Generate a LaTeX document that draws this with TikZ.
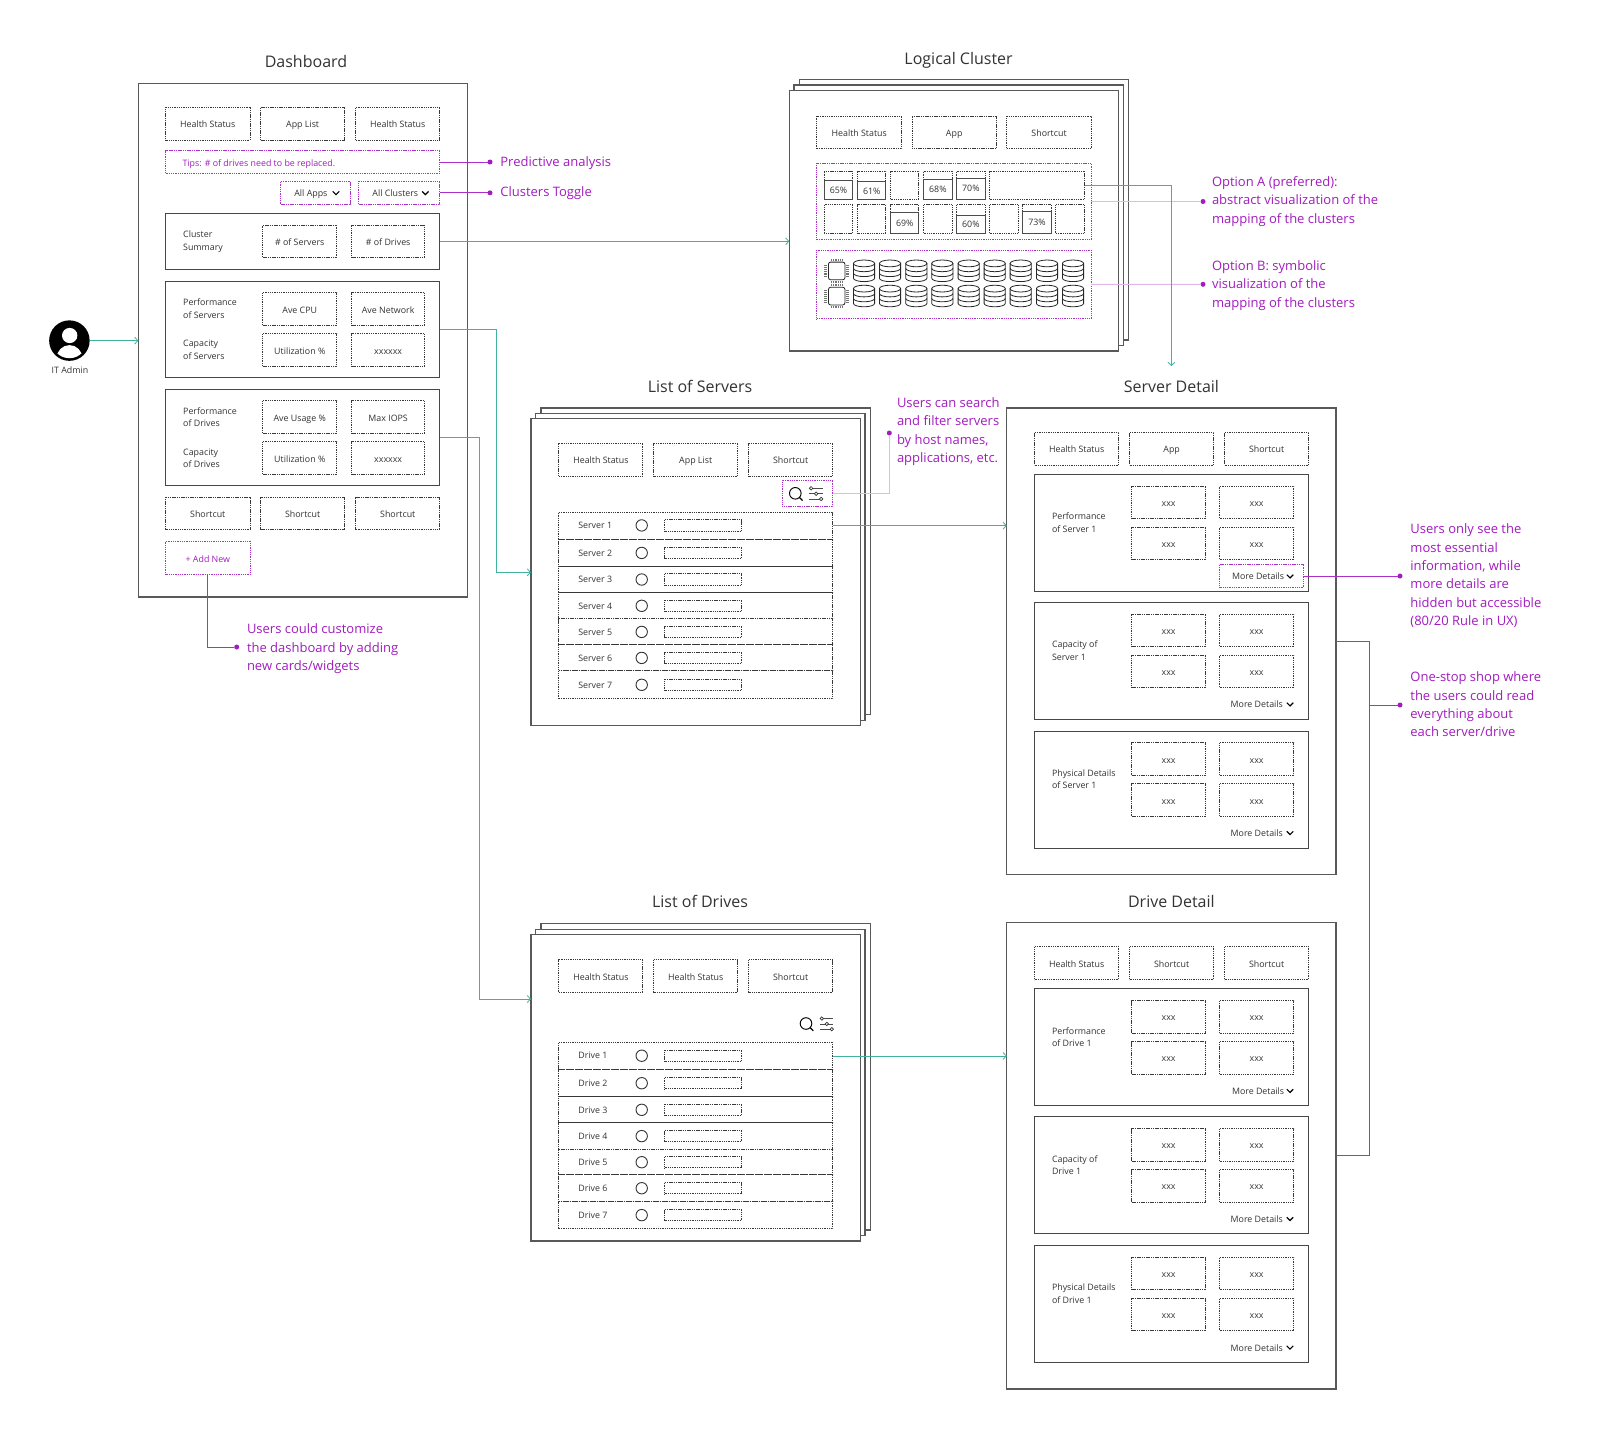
\documentclass[tikz,border=0pt]{standalone}
\usepackage{fontspec}
\setmainfont{Open Sans}
\usetikzlibrary{arrows.meta}
\definecolor{mg}{HTML}{A21CBF}
\definecolor{mgl}{HTML}{E3B8EE}
\definecolor{mgb}{HTML}{AD2FCB}
\definecolor{tl}{HTML}{3FB39D}
\definecolor{ink}{HTML}{333333}
\tikzset{
 dbox/.style={draw=black!78,line width=0.85pt,dash pattern=on 1.1pt off 0.7pt,inner sep=0pt,outer sep=0pt,text=ink,font=\fontsize{8.85}{12}\selectfont,text height=8pt,text depth=0pt,xshift=0.2pt},
 mbox/.style={draw=mgb,line width=0.85pt,dash pattern=on 1.1pt off 0.7pt,inner sep=0pt,outer sep=0pt,text=mg,font=\fontsize{8.85}{12}\selectfont,text height=8.6pt,text depth=0pt,xshift=0.2pt},
 sbox/.style={draw=black!72,line width=1pt,fill=white,inner sep=0pt,outer sep=0pt},
 frm/.style={draw=black!65,line width=1.05pt,fill=white,inner sep=0pt,outer sep=0pt},
 pctbox/.style={draw=black!70,line width=1pt,inner sep=0pt,outer sep=0pt,xshift=0.2pt},
 lbl/.style={inner sep=0pt,outer sep=0pt,text=ink,font=\fontsize{8.85}{12.7}\selectfont,align=left},
 slbl/.style={inner sep=0pt,outer sep=0pt,text=ink,font=\fontsize{8.85}{12.7}\selectfont,text height=6.4pt,text depth=0pt},
 ttl/.style={inner sep=0pt,outer sep=0pt,text=ink,font=\fontsize{16}{20}\selectfont},
 note/.style={inner sep=0pt,outer sep=0pt,text=mg,font=\fontsize{13}{18.4}\selectfont,align=left,anchor=west},
 mdot/.style={circle,fill=mg,draw=none,minimum size=5pt,inner sep=0pt,outer sep=0pt},
 tarrow/.style={draw=tl,line width=0.9pt,-{Straight Barb[length=3.2pt,width=7pt,line width=0.8pt]}},
 mline/.style={draw=mgb,line width=0.95pt},
 mlight/.style={draw=mgl,line width=0.9pt},
 chv/.style={draw=black,line width=1.2pt},
}
% style, name, x1, y1, x2, y2, text
\newcommand\bx[7]{%
 \pgfmathsetmacro\bxW{(#5)-(#3)}\pgfmathsetmacro\bxH{(#6)-(#4)}%
 \node[#1,minimum width=\bxW pt,minimum height=\bxH pt,anchor=north west] (#2) at ({#3},{#4}) {#7};}
\newcommand\chev[2]{\draw[chv] ({#1-3.2},{#2-1.6}) -- ({#1},{#2+1.6}) -- ({#1+3.2},{#2-1.6});}
% name, more x, y(card top), line1, line2
\newcommand\card[5]{%
 \bx{sbox}{#1}{1034.3}{#3}{1308.6}{(#3)+117}{}
 \bx{dbox}{#1a}{1131.4}{(#3)+11.7}{1205.4}{(#3)+44.4}{xxx}
 \bx{dbox}{#1b}{1219.3}{(#3)+11.7}{1293.6}{(#3)+44.4}{xxx}
 \bx{dbox}{#1c}{1131.4}{(#3)+52.7}{1205.4}{(#3)+85.4}{xxx}
 \bx{dbox}{#1d}{1219.3}{(#3)+52.7}{1293.6}{(#3)+85.4}{xxx}
 \node[lbl,anchor=west] (#1t) at (1052,{(#3)+48.3}) {#4\\#5};
 \node[slbl,anchor=west] (#1m) at (#2,{(#3)+102.4}) {More Details};
 \chev{1290}{(#3)+102}}
% name, dy, top2, top3, word
\newcommand\detailpage[5]{%
 \bx{frm}{#1}{1006.8}{(#2)+408}{1336}{(#2)+874.5}{}
 \bx{dbox}{#1h}{1034.3}{(#2)+432.3}{1118.6}{(#2)+465}{Health Status}
 \bx{dbox}{#1i}{1129.3}{(#2)+432.3}{1213.6}{(#2)+465}{#3}
 \bx{dbox}{#1j}{1224.3}{(#2)+432.3}{1308.6}{(#2)+465}{#4}
 \card{#1p}{1232}{(#2)+474.3}{Performance}{of #5 1}
 \card{#1q}{1230.7}{(#2)+602.3}{Capacity of}{#5 1}
 \card{#1s}{1230.7}{(#2)+731}{Physical Details}{of #5 1}}
% triple stack: name, x1, y1, x2, y2 (front)
\newcommand\stackfr[5]{%
 \bx{frm}{#1bk}{(#2)+10}{(#3)-10.7}{(#4)+10}{(#5)-11}{}
 \bx{frm}{#1md}{(#2)+4.7}{(#3)-5.3}{(#4)+4.7}{(#5)-5.4}{}
 \bx{frm}{#1}{#2}{#3}{#4}{#5}{}}
% name, dy rows, word
\newcommand\rows[3]{%
 \foreach \i/\ya/\yb/\yt in {1/512/539.3/525.4,2/539.3/566/552.9,3/566/592.3/579.5,4/592.3/618.7/605.8,5/618.7/644/631.9,6/644/670.7/657.9,7/670.7/698.3/684.8}{
  \bx{dbox}{#1r\i}{558.7}{(#2)+\ya}{832.7}{(#2)+\yb}{}
  \node[slbl,anchor=west] (#1l\i) at (578.3,{(#2)+\yt}) {#3 \i};
  \node[draw=black!80,line width=0.9pt,circle,minimum size=11.4pt,inner sep=0pt] (#1c\i) at (641.7,{(#2)+\yt}) {};
  \bx{dbox}{#1b\i}{664.3}{(#2)+\yt-5.7}{741.3}{(#2)+\yt+5.7}{}
 }}
\newcommand\searchicon[2]{%
 \draw[black,line width=0.95pt] (#1,#2) circle (5.8);
 \draw[black,line width=1.2pt] ({#1+4.2},{#2+4.2}) -- ({#1+7.3},{#2+7.3});
 \foreach \yy/\xx in {-5/1.8,0.4/6.8,5.7/11.8}{
  \draw[black!70,line width=0.7pt] ({#1+14},{#2+\yy}) -- ({#1+27.4},{#2+\yy});
  \node[draw=black!80,fill=white,line width=0.7pt,circle,minimum size=3.4pt,inner sep=0pt] (knob\xx) at ({#1+14+\xx},{#2+\yy}) {};}}
\newcommand\disks[2]{%
 \draw[black!85,line width=0.8pt,fill=white] ({#1-10.6},{#2+3.4}) -- ({#1-10.6},{#2+18.2}) arc[start angle=180,end angle=0,x radius=10.6,y radius=3.4] -- ({#1+10.6},{#2+3.4});
 \draw[black!85,line width=0.8pt,fill=white] ({#1},{#2+3.4}) ellipse (10.6 and 3.4);
 \draw[black!85,line width=0.8pt] ({#1-10.6},{#2+8.3}) arc[start angle=180,end angle=0,x radius=10.6,y radius=3.4];
 \draw[black!85,line width=0.8pt] ({#1-10.6},{#2+13.2}) arc[start angle=180,end angle=0,x radius=10.6,y radius=3.4];}
\newcommand\chip[2]{%
 \draw[black!85,line width=0.8pt,rounded corners=2pt] ({#1-8.2},{#2-8.8}) rectangle ({#1+8.2},{#2+8.8});
 \foreach \k in {-5.6,-3.7,-1.8,0.1,2,3.9,5.8}{
  \draw[black!55,line width=0.8pt] ({#1+\k},{#2-12.2}) -- ({#1+\k},{#2-9.9});
  \draw[black!55,line width=0.8pt] ({#1+\k},{#2+9.9}) -- ({#1+\k},{#2+12.2});
  \draw[black!55,line width=0.8pt] ({#1-12.6},{#2+\k}) -- ({#1-9.4},{#2+\k});
  \draw[black!55,line width=0.8pt] ({#1+9.4},{#2+\k}) -- ({#1+12.6},{#2+\k});}}
% pct x1 y1 x2 y2 liney ytext
\newcommand\pct[7]{%
 \bx{dbox}{c#1}{#2}{#3}{#4}{#5}{}
 \bx{pctbox}{c#1f}{#2}{#6}{#4}{#5}{}
 \node[slbl,anchor=center] (c#1t) at ({((#2)+(#4))/2+0.2},{#7}) {#1\%};}
\begin{document}
\begin{tikzpicture}[x=1pt,y=-1pt]
\useasboundingbox[fill=white] (0,0) rectangle (1600,1433);
% titles
\node[ttl] (tDash) at (306,61.2) {Dashboard};
\node[ttl] (tLog) at (958.6,60.2) {Logical Cluster};
\node[ttl] (tLS) at (700,386.2) {List of Servers};
\node[ttl] (tSD) at (1171.4,386.2) {Server Detail};
\node[ttl] (tLD) at (700,901) {List of Drives};
\node[ttl] (tDD) at (1171.4,901) {Drive Detail};
% avatar
\node[circle,fill=black,minimum size=40.5pt,inner sep=0pt,outer sep=0pt] (admin) at (69.4,340.6) {};
\begin{scope}
 \clip (69.4,340.6) circle (17.6);
 \fill[white] (69.5,358.6) ellipse (13 and 13.5);
\end{scope}
\fill[white] (69.7,335.5) ellipse (7.7 and 7.6);
\node[lbl,anchor=center] (adminT) at (69.9,370) {IT Admin};
% dashboard
\bx{frm}{dash}{138.4}{83.3}{467.3}{597}{}
\bx{dbox}{d1}{165.3}{107.3}{249.8}{140}{Health Status}
\bx{dbox}{d2}{260.4}{107.3}{344.5}{140}{App List}
\bx{dbox}{d3}{355.5}{107.3}{439.6}{140}{Health Status}
\bx{mbox}{tips}{165.3}{150.7}{439.6}{173.3}{}
\node[slbl,anchor=west,text=mg] (tipsT) at (182.6,163.4) {Tips: \# of drives need to be replaced.};
\bx{mbox}{allA}{280.4}{181.3}{350.6}{204.3}{}
\node[slbl,anchor=center] (allAT) at (310.9,193) {All Apps};
\chev{336}{193}
\bx{mbox}{allC}{358.4}{181.3}{439.6}{204.3}{}
\node[slbl,anchor=center] (allCT) at (395.3,193) {All Clusters};
\chev{425.3}{193}
\bx{sbox}{clu}{165.3}{213.3}{439.6}{269.3}{}
\node[lbl,anchor=west] (cluT) at (183.2,241.8) {Cluster\\Summary};
\bx{dbox}{clu1}{262.4}{225}{336.7}{257.7}{\# of Servers}
\bx{dbox}{clu2}{351.4}{225}{424.5}{257.7}{\# of Drives}
\bx{sbox}{pS}{165.3}{281.3}{439.6}{377.3}{}
\node[lbl,anchor=west] (pST) at (183.2,308.8) {Performance\\of Servers};
\node[lbl,anchor=west] (cST) at (183.2,350.1) {Capacity\\of Servers};
\bx{dbox}{pS1}{262.4}{292.7}{336.7}{325.3}{Ave CPU}
\bx{dbox}{pS2}{351.4}{292.7}{424.5}{325.3}{Ave Network}
\bx{dbox}{pS3}{262.4}{333.7}{336.7}{366.3}{Utilization \%}
\bx{dbox}{pS4}{351.4}{333.7}{424.5}{366.3}{xxxxxx}
\bx{sbox}{pD}{165.3}{389}{439.6}{485.3}{}
\node[lbl,anchor=west] (pDT) at (183.2,417) {Performance\\of Drives};
\node[lbl,anchor=west] (cDT) at (183.2,458.3) {Capacity\\of Drives};
\bx{dbox}{pD1}{262.4}{400.7}{336.7}{433.3}{Ave Usage \%}
\bx{dbox}{pD2}{351.4}{400.7}{424.5}{433.3}{Max IOPS}
\bx{dbox}{pD3}{262.4}{441.7}{336.7}{474.3}{Utilization \%}
\bx{dbox}{pD4}{351.4}{441.7}{424.5}{474.3}{xxxxxx}
\bx{dbox}{s1}{165.3}{497}{249.8}{529.6}{Shortcut}
\bx{dbox}{s2}{260.4}{497}{344.5}{529.6}{Shortcut}
\bx{dbox}{s3}{355.5}{497}{439.6}{529.6}{Shortcut}
\bx{mbox}{addN}{165.3}{541}{250}{574.5}{+ Add New}
% logical cluster
\stackfr{lc}{789.3}{90.3}{1118.7}{351}
\bx{dbox}{lc1}{816.7}{116}{901.3}{148.7}{Health Status}
\bx{dbox}{lc2}{912}{116}{996}{148.7}{App}
\bx{dbox}{lc3}{1006.7}{116}{1091}{148.7}{Shortcut}
\bx{mbox}{optA}{816.7}{163.3}{1091}{239.7}{}
\bx{mbox}{optB}{816.7}{250}{1091}{318.7}{}
\pct{65}{824}{171}{852.7}{199.3}{180}{190}
\pct{61}{857.3}{171}{885.7}{199.3}{181.7}{191}
\bx{dbox}{e1}{890.3}{171}{918.7}{199.3}{}
\pct{68}{923.3}{171}{952}{199.3}{179}{189}
\pct{70}{956.3}{171}{985}{199.3}{178}{188.7}
\bx{dbox}{wide}{989.3}{171}{1084.3}{199.3}{}
\bx{dbox}{e2}{824}{204.7}{852.7}{233.3}{}
\bx{dbox}{e3}{857.3}{204.7}{885.7}{233.3}{}
\pct{69}{890.3}{204.7}{918.7}{233.3}{212.3}{223}
\bx{dbox}{e4}{923.3}{204.7}{952}{233.3}{}
\pct{60}{956.3}{204.7}{985}{233.3}{215.3}{224.3}
\bx{dbox}{e5}{989.3}{204.7}{1018}{233.3}{}
\pct{73}{1022.7}{204.7}{1051}{233.3}{211.3}{222.3}
\bx{dbox}{e6}{1055.7}{204.7}{1084.3}{233.3}{}
\chip{836.7}{270.9}
\chip{836.7}{296.1}
\foreach \xx in {864,890,916.3,942.3,968.7,994.7,1020.7,1047,1073}{
 \disks{\xx}{260}
 \disks{\xx}{285.2}
}
% list of servers
\stackfr{ls}{531}{418.7}{860.3}{725.7}
\bx{dbox}{ls1}{558.7}{443.3}{642.7}{476}{Health Status}
\bx{dbox}{ls2}{653.3}{443.3}{737.7}{476}{App List}
\bx{dbox}{ls3}{748.3}{443.3}{832.7}{476}{Shortcut}
\bx{mbox}{srch}{782}{480.3}{832.7}{506.7}{}
\searchicon{795.3}{493.3}
\rows{ls}{0}{Server}
% list of drives
\stackfr{ld}{531}{934.4}{860.3}{1241}
\bx{dbox}{ld1}{558.7}{959.8}{642.7}{992.5}{Health Status}
\bx{dbox}{ld2}{653.3}{959.8}{737.7}{992.5}{Health Status}
\bx{dbox}{ld3}{748.3}{959.8}{832.7}{992.5}{Shortcut}
\searchicon{806}{1023.5}
\rows{ld}{530.3}{Drive}
% details
\detailpage{sd}{0}{App}{Shortcut}{Server}
\detailpage{dd}{514.5}{Shortcut}{Shortcut}{Drive}
\bx{mbox}{more}{1219.3}{564.3}{1303.6}{587.7}{}
% annotations
\node[mdot] (dPred) at (490,162) {};
\node[note] (nPred) at (500.4,163.2) {Predictive analysis};
\node[mdot] (dTog) at (490,192.8) {};
\node[note] (nTog) at (500.4,193.5) {Clusters Toggle};
\node[mdot] (dAdd) at (236.7,647) {};
\node[note] (nAdd) at (247,649) {Users could customize\\the dashboard by adding\\new cards/widgets};
\node[mdot] (dA) at (1203,201.5) {};
\node[note] (nA) at (1212,201.5) {Option A (preferred):\\abstract visualization of the\\mapping of the clusters};
\node[mdot] (dB) at (1203,284.3) {};
\node[note] (nB) at (1212,285.5) {Option B: symbolic\\visualization of the\\mapping of the clusters};
\node[mdot] (dSr) at (889.3,433) {};
\node[note] (nSr) at (897,431.5) {Users can search\\and filter servers\\by host names,\\applications, etc.};
\node[mdot] (dMo) at (1400,576) {};
\node[note] (nMo) at (1410.4,575.8) {Users only see the\\most essential\\information, while\\more details are\\hidden but accessible\\(80/20 Rule in UX)};
\node[mdot] (dOn) at (1400,705) {};
\node[note] (nOn) at (1410.4,704.4) {One-stop shop where\\the users could read\\everything about\\each server/drive};
\draw[mline] (tips.east) -- (dPred);
\draw[mline] (allC.east) -- (dTog);
\draw[mline] (addN.south) |- (dAdd);
\draw[mlight] (optA.east) -- (dA);
\draw[mlight] (optB.east) -- (dB);
\draw[mlight] (srch.east) -| (dSr);
\draw[mline] (more.east) -- (dMo);
\coordinate (osT) at (1369.3,641.3);
\coordinate (osB) at (1369.3,1155);
\draw[mline] (osT -| sd.east) -- (osT) -- (osB) -- (osB -| dd.east);
\draw[mline] (dOn) -- (dOn -| osT);
% connectors
\coordinate (jS) at (496.7,572.3);
\coordinate (jD) at (479.6,999);
\coordinate (jL) at (1171.4,366);
\draw[tarrow] (admin.east) -- (admin.east -| dash.west);
\draw[tarrow] (clu.east) -- (clu.east -| lc.west);
\draw[tarrow] (pS.east) -| (jS) -- (jS -| ls.west);
\draw[tarrow] (pD.east) -| (jD) -- (jD -| ld.west);
\draw[tarrow] (wide.east) -| (jL);
\draw[tarrow] (lsr1.east) -- (lsr1.east -| sd.west);
\draw[tarrow] (ldr1.east) -- (ldr1.east -| dd.west);
\end{tikzpicture}
\end{document}
